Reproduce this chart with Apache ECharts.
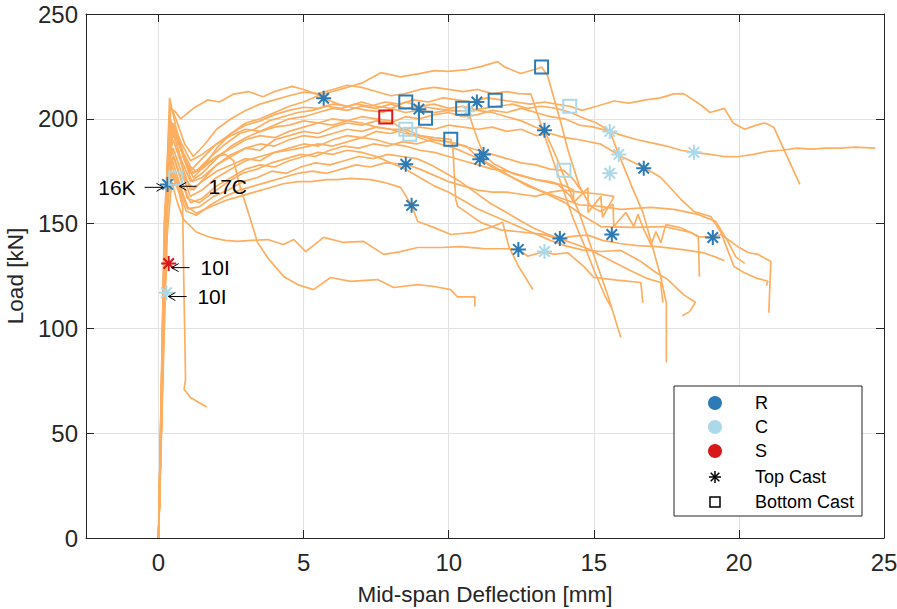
<!DOCTYPE html>
<html><head><meta charset="utf-8">
<script src="https://cdn.jsdelivr.net/npm/echarts@6/dist/echarts.min.js"></script>
<style>html,body{margin:0;padding:0;background:#fff}#c{width:897px;height:609px}</style>
</head><body><div id="c"></div>
<script>
// ---------------- data ----------------
const xTicks = [0, 5, 10, 15, 20, 25];
const yTicks = [0, 50, 100, 150, 200, 250];

const crv01 = [[0,0],[0.1,60],[0.2,130],[0.3,175],[0.42,198],[0.6,190],[0.9,172],[1.2,166],[1.6,172],[2.0,178],[2.5,182],[3.0,186],[3.5,185],[4.0,190],[4.5,192],[5.0,194],[5.5,193],[6.0,196],[6.5,198],[7.0,197],[7.5,199],[8.0,198],[8.5,201],[9.0,200],[9.5,202],[10.0,203],[10.5,201],[11.0,202],[11.5,204],[12.0,203],[12.5,205],[13.0,203],[13.5,201],[14.0,200],[14.5,197],[15.0,196],[15.55,194],[16.0,192],[16.5,190],[17.0,188.5],[17.5,187],[18.0,185],[18.45,184],[19.0,183],[19.5,182],[20.0,182],[20.5,183],[21.0,184.5],[21.5,185],[22.0,186],[22.5,185.5],[23.0,186],[23.5,186],[24.0,186.5],[24.7,186]];
const crv02 = [[0,0],[0.15,80],[0.3,160],[0.45,195],[0.7,188],[1.0,178],[1.3,175],[1.8,182],[2.3,188],[2.8,193],[3.3,195],[3.8,199],[4.3,201],[4.8,203],[5.3,204],[5.8,206],[6.3,205],[6.8,207],[7.3,206],[7.8,208],[8.3,207],[8.8,209],[9.3,208],[9.8,210],[10.3,209],[10.8,208],[11.3,210],[11.8,209],[12.3,208],[12.8,207],[13.3,208],[13.7,207],[14.17,206],[14.6,204],[15.1,206],[15.7,208.5],[16.2,207.5],[16.8,209],[17.3,210],[17.76,211.9],[18.1,212],[18.7,206.5],[19.0,203],[19.5,205],[19.8,198],[20.2,195],[20.6,197],[20.9,198],[21.2,196],[22.1,168.7]];
const crv03 = [[0,0],[0.1,70],[0.2,140],[0.38,210],[0.6,196],[0.9,180],[1.2,172],[1.6,178],[2.0,186],[2.5,193],[3.0,198],[3.5,200],[4.0,203],[4.5,206],[5.0,208],[5.5,211],[6.0,213],[6.5,215],[7.0,217],[7.66,222],[8.34,220],[9.03,221.7],[9.5,223],[9.97,222.6],[10.66,223.5],[11.1,224.9],[11.69,227.3],[11.9,224.9],[12.48,221.6],[13.07,224],[13.2,224.7],[13.41,220.4],[13.86,198.4],[14.1,185.5],[14.5,168],[14.9,158],[15.24,155.8],[15.66,159.2],[15.69,148.6],[16.1,155.3],[16.38,148.6],[16.52,154.4],[16.72,147.2],[16.97,140],[17.14,146.2],[17.31,140.9],[17.48,149.5],[18.0,148],[18.6,144],[18.64,124.7]];
const crv04 = [[0,0],[0.1,75],[0.2,150],[0.42,205],[0.6,203],[0.76,200],[1.2,205],[1.69,209],[2.1,208],[2.59,211.8],[3.1,213],[3.6,210.5],[4.0,213],[4.6,215.5],[5.0,214],[5.4,212],[5.69,209.8],[6.2,207],[6.62,205.5],[7.2,204],[7.76,203.2],[8.52,208],[9.0,206],[9.5,207],[10.0,205],[10.5,206],[11.0,204],[11.5,203],[12.0,201],[12.5,199],[13.0,196],[13.3,194.5],[13.7,182],[14.1,168],[14.5,155],[15.0,135],[15.5,115],[15.93,95.6]];
const crv05 = [[0,0],[0.1,70],[0.2,140],[0.5,198],[0.8,188],[1.1,180],[1.5,183],[2.0,188],[2.5,192],[3.0,195],[3.5,194],[4.0,197],[4.5,200],[5.0,201],[5.5,203],[6.0,205],[6.5,204],[7.0,206],[7.5,205],[8.0,207],[8.5,205],[9.0,206],[9.5,205],[10.0,204],[10.66,203.6],[11.2,205],[11.7,206],[12.2,207],[12.7,205],[13.2,206],[13.7,205],[14.2,203],[14.7,200],[15.1,198],[15.55,194],[15.86,183],[16.3,168],[16.7,155],[17.0,140],[17.3,125],[17.5,112],[17.5,83.7]];
const crv06 = [[0,0],[0.1,60],[0.2,125],[0.33,180],[0.5,190],[0.8,178],[1.1,166],[1.5,170],[2.0,175],[2.5,178],[3.0,181],[3.5,180],[4.0,184],[4.5,186],[5.0,188],[5.5,187],[6.0,190],[6.5,192],[7.0,191],[7.5,194],[8.0,193],[8.5,195],[9.0,196],[9.5,195],[10.0,197],[10.5,196],[11.0,195],[11.5,196],[12.0,194],[12.5,195],[13.0,192],[13.5,193],[14.0,191],[14.5,190],[15.24,187.9],[15.93,182.1],[16.72,176.9],[17.31,172],[18.0,161.6],[18.45,155.8],[19.03,153.4],[19.38,145.8],[19.83,129.5],[20.17,126.7],[20.6,124],[21.0,122.5],[20.95,120.5]];
const crv07 = [[0,0],[0.1,55],[0.2,115],[0.3,165],[0.45,185],[0.7,175],[1.0,162],[1.4,160],[1.9,165],[2.4,170],[2.9,174],[3.4,176],[3.9,179],[4.4,181],[4.9,183],[5.4,182],[5.9,185],[6.4,187],[6.9,186],[7.4,188],[7.9,187],[8.4,189],[8.9,188],[9.4,190],[10.0,189],[10.6,187],[11.07,180.7],[11.6,176],[12.2,172],[12.8,168],[13.4,164],[14.0,160],[14.6,154],[15.24,148.6],[16.38,148.2],[17.41,148.6],[18.34,145.8],[18.59,143.8],[19.1,143.4],[19.38,144.8],[19.97,139],[20.31,136.2],[20.66,135.3],[21.1,131.9],[21.03,107.5]];
const crv08 = [[0,0],[0.1,65],[0.2,135],[0.35,190],[0.5,197],[0.8,185],[1.1,174],[1.5,176],[2.0,182],[2.5,186],[3.0,190],[3.5,192],[4.0,191],[4.5,194],[5.0,196],[5.5,198],[6.0,197],[6.5,199],[7.0,201],[7.5,200],[8.0,199],[8.66,192.6],[9.2,190],[9.7,188],[10.2,186],[10.7,183],[11.2,180],[11.7,176],[12.2,172],[12.7,168],[13.3,165],[13.9,162],[14.5,159],[15.24,158.2],[15.93,156.8],[16.97,157.7],[17.76,156.8],[18.59,154.4],[19.2,151],[19.6,142],[19.9,134],[20.2,131]];
const crv09 = [[0,0],[0.1,55],[0.2,110],[0.32,160],[0.45,178],[0.7,168],[1.0,157],[1.4,158],[1.9,163],[2.4,166],[2.9,170],[3.4,172],[3.9,175],[4.4,174],[4.9,177],[5.4,179],[5.9,178],[6.4,180],[6.9,182],[7.4,181],[7.9,183],[8.4,182],[8.9,181],[9.4,178],[9.9,174],[10.4,170],[10.9,165],[11.4,160],[11.9,156],[12.4,152],[12.9,148],[13.4,145],[13.83,142.9],[14.3,144],[14.8,144.5],[15.3,142],[15.9,140.5],[16.5,139.5],[17.2,139],[18.0,137.7],[18.8,136],[19.2,134],[19.5,132.3]];
const crv10 = [[0,0],[0.1,60],[0.2,120],[0.35,175],[0.5,182],[0.8,170],[1.1,160],[1.5,162],[2.0,168],[2.5,172],[3.0,176],[3.5,178],[4.0,177],[4.5,180],[5.0,182],[5.5,184],[6.0,183],[6.5,185],[7.0,184],[7.5,182],[8.0,179],[8.5,176],[9.0,172],[9.5,168],[10.0,165],[10.5,161],[11.0,157],[11.5,154],[12.0,151],[12.5,148],[13.0,145],[13.5,142],[14.0,139.5],[14.6,137.5],[15.24,136.7],[15.93,137.2],[16.62,131.9],[17.1,127],[17.55,123.3],[18.1,116],[18.5,112.5],[18.3,108],[18.05,106]];
const crv11 = [[0,0],[0.1,50],[0.2,100],[0.3,145],[0.45,170],[0.65,160],[0.86,152],[1.3,146],[1.79,143.4],[2.3,142],[2.72,141.5],[3.2,142],[3.76,142.4],[4.3,140],[4.66,142.4],[5.07,136.6],[5.69,143.4],[6.38,141],[7.07,141.5],[7.76,135.3],[8.3,136.5],[8.93,138.6],[9.72,138.6],[10.41,139],[11.2,138.1],[12.0,138],[12.41,137.7],[12.72,134.4],[13.3,136.7],[13.62,135.3],[14.1,136.1],[14.66,129.5],[15.0,124.3],[15.8,123],[16.62,121.9],[16.69,112.3]];
const crv12 = [[0,0],[0.1,65],[0.2,135],[0.4,200],[0.6,192],[0.9,180],[1.2,174],[1.6,178],[2.0,182],[2.3,183],[2.59,180],[2.8,168],[3.1,155],[3.41,141],[3.8,133],[4.31,124.8],[4.79,120.9],[5.34,118.5],[5.93,124.3],[6.62,122.4],[7.55,123.3],[8.1,119.5],[8.93,120.9],[9.5,120],[10.07,118.5],[10.3,115],[10.9,115],[10.9,110.4]];
const crv13 = [[0,0],[0.1,55],[0.2,115],[0.32,165],[0.48,180],[0.75,168],[1.0,158],[1.3,155],[1.8,158],[2.3,161],[2.8,163],[3.3,165],[3.8,167],[4.3,169],[4.8,170],[5.24,170],[5.8,171],[6.17,171],[6.62,171.6],[7.3,171],[7.76,169.7],[8.34,167.3],[8.72,158.7],[8.93,151],[9.48,148.2],[10.07,144.8],[10.86,145.8],[11.4,148],[11.86,150.6],[12.07,139],[12.41,129.5],[12.9,118.5]];
const crv14 = [[0,0],[0.1,60],[0.2,125],[0.35,175],[0.5,172],[0.7,165],[0.83,158],[0.86,130],[0.9,100],[0.93,75.5],[0.88,71],[1.1,67],[1.4,64.5],[1.66,62.5]];
const crv15 = [[0,0],[0.1,65],[0.2,130],[0.35,185],[0.55,195],[0.85,182],[1.15,170],[1.5,172],[2.0,178],[2.5,183],[3.0,186],[3.5,188],[4.0,187],[4.5,190],[5.0,192],[5.5,191],[6.0,193],[6.5,195],[7.0,194],[7.5,196],[8.0,195],[8.52,195],[9.0,192],[9.5,190],[10.0,189],[10.5,187],[11.0,185],[11.5,183],[12.0,181],[12.5,179],[13.0,178],[13.5,176],[13.97,175.4],[14.3,171],[14.5,167],[14.7,164]];
const crv16 = [[0,0],[0.1,60],[0.2,125],[0.34,180],[0.5,186],[0.8,174],[1.1,163],[1.5,166],[2.0,172],[2.5,176],[3.0,180],[3.5,182],[4.0,184],[4.5,185],[5.0,186.4],[5.5,188],[6.0,187],[6.5,189],[7.0,191],[7.5,190],[8.0,188],[8.5,187],[9.0,185],[9.5,184],[10.0,182],[10.5,180],[11.0,178],[11.5,176],[12.0,175],[12.5,173],[13.0,171],[13.5,170],[14.0,168],[14.3,166],[14.3,159.6]];
const crv17 = [[0,0],[0.1,70],[0.2,140],[0.37,198],[0.55,195],[0.85,184],[1.15,176],[1.5,181],[2.0,188],[2.5,193],[3.0,197],[3.5,199],[4.0,202],[4.5,204],[5.0,205.5],[5.5,205],[6.0,207],[6.5,206],[7.0,208],[7.5,206],[8.0,205],[8.5,203],[9.0,204],[9.5,203],[10.0,204],[10.66,203.6],[11.0,190],[11.2,183],[11.55,178.5],[12.24,173.7],[13.0,171],[13.76,168.7],[14.2,163],[14.3,160],[14.8,167],[14.8,155.3],[15.24,163],[15.3,153],[15.7,163]];
const crv18 = [[0,0],[0.1,65],[0.2,130],[0.35,188],[0.52,192],[0.8,180],[1.1,170],[1.5,174],[2.0,181],[2.5,187],[3.0,191],[3.5,194],[4.0,196],[4.5,197],[5.0,199],[5.5,198],[6.0,200],[6.5,199],[7.0,198],[7.5,196],[8.0,195],[8.5,193],[9.0,192],[9.5,191],[10.07,190.2],[10.14,186.9],[10.24,161.6],[10.31,158.2],[11.1,150.6],[11.8,147],[12.5,146],[13.2,145],[14.0,142],[14.8,138],[15.5,133],[16.2,128],[16.8,124],[17.3,121.9],[17.38,112.3]];
const crv19 = [[0,0],[0.1,55],[0.2,115],[0.31,162],[0.46,175],[0.7,166],[0.95,156],[1.3,154],[1.8,159],[2.3,163],[2.8,166],[3.3,168],[3.8,170],[4.3,172],[4.8,174],[5.3,175],[5.8,174],[6.3,176],[6.8,178],[7.3,177],[7.8,179],[8.52,178.3],[9.0,176],[9.5,173],[10.0,170],[10.5,168],[11.0,166],[11.5,165],[12.0,165],[12.5,164],[13.0,163],[13.5,165],[14.0,166],[14.5,165],[15.24,164],[15.69,163]];
const crv20 = [[0,0],[0.1,75],[0.2,150],[0.4,206],[0.6,200],[0.9,188],[1.2,182],[1.6,188],[2.0,195],[2.5,200],[3.0,204],[3.5,207],[4.0,209],[4.5,211],[5.0,212.7],[5.5,212],[6.0,214],[6.5,216],[7.0,215],[7.5,213],[8.0,211],[8.5,212],[9.0,214],[9.5,215],[10.0,214],[10.5,213],[11.0,214],[11.5,212],[12.0,213],[12.4,212],[12.83,211.8],[13.3,192],[13.8,172],[14.3,152],[14.66,140],[15.0,128],[15.4,115],[15.6,110]];
const curves = [crv01,crv02,crv03,crv04,crv05,crv06,crv07,crv08,crv09,crv10,crv11,crv12,crv13,crv14,crv15,crv16,crv17,crv18,crv19,crv20];

// markers: [deflection, load]
const rTop = [[5.69,209.8],[8.97,204.6],[10.97,208],[13.3,194.5],[8.52,178.3],[8.72,158.7],[11.07,180.7],[11.2,183],[16.72,176.4],[15.62,144.8],[19.1,143.4],[12.4,137.7],[13.83,142.9],[0.31,168.7]];
const cTop = [[10.66,203.6],[15.55,194],[15.86,183],[15.55,174],[18.45,184],[13.3,136.7],[0.27,117]];
const sTop = [[0.35,131]];
const rBottom = [[13.2,224.7],[8.52,208],[9.2,200.3],[10.48,205],[11.6,208.9],[10.07,190.2]];
const cBottom = [[14.17,206],[8.52,195],[8.66,192.6],[13.97,175.4],[0.59,171.6]];
const sBottom = [[7.83,200.8]];

const legendNames = ['R', 'C', 'S', 'Top Cast', 'Bottom Cast'];
const annoLabels = ['16K', '17C', '10I', '10I'];

// ---------------- styles / layout ----------------
const FONT = '"Liberation Sans", Arial, Helvetica, sans-serif';
const COL = { R: '#2c7bb6', C: '#abd9e9', S: '#d7191c', line: '#fdae61', axis: '#262626' };
const AST = 'path://M10,0L10,20M0,10L20,10M3,3L17,17M3,17L17,3';

const chart = echarts.init(document.getElementById('c'), null, { renderer: 'svg' });

const series = curves.map(d => ({
  type: 'line', data: d, showSymbol: false, silent: true, z: 2,
  lineStyle: { color: COL.line, width: 1.7 }, animation: false
}));
function markerSeries(data, color, isStar) {
  return {
    type: 'scatter', data: data, z: 5, silent: true, animation: false,
    symbol: isStar ? AST : 'rect', symbolSize: isStar ? 15 : 13,
    itemStyle: { color: 'none', borderColor: color, borderWidth: 2, opacity: 1 }
  };
}
series.push(markerSeries(rTop, COL.R, true));
series.push(markerSeries(cTop, COL.C, true));
series.push(markerSeries(sTop, COL.S, true));
series.push(markerSeries(rBottom, COL.R, false));
series.push(markerSeries(cBottom, COL.C, false));
series.push(markerSeries(sBottom, COL.S, false));

const axisLineStyle = { color: COL.axis, width: 1 };
const option = {
  backgroundColor: '#fff',
  animation: false,
  grid: { left: 86, right: 13, top: 14, bottom: 71, containLabel: false, outerBoundsMode: 'none' },
  xAxis: [{
    type: 'value', min: -2.5, max: 25, position: 'bottom',
    axisLine: { show: true, onZero: false, lineStyle: axisLineStyle },
    axisTick: { show: true, inside: true, length: 8, customValues: xTicks, lineStyle: axisLineStyle },
    axisLabel: { customValues: xTicks, fontSize: 24, color: COL.axis, margin: 12, fontFamily: FONT },
    splitLine: { show: true, lineStyle: { color: '#e2e2e2', width: 1 } },
    name: 'Mid-span Deflection [mm]', nameLocation: 'middle', nameGap: 45,
    nameTextStyle: { fontSize: 22.5, color: COL.axis, fontFamily: FONT }
  }, {
    type: 'value', min: -2.5, max: 25, position: 'top',
    axisLine: { show: true, onZero: false, lineStyle: axisLineStyle },
    axisTick: { show: true, inside: true, length: 8, customValues: xTicks, lineStyle: axisLineStyle },
    axisLabel: { show: false }, splitLine: { show: false }
  }],
  yAxis: [{
    type: 'value', min: 0, max: 250, interval: 50, position: 'left',
    axisLine: { show: true, onZero: false, lineStyle: axisLineStyle },
    axisTick: { show: true, inside: true, length: 8, lineStyle: axisLineStyle },
    axisLabel: { fontSize: 24, color: COL.axis, margin: 8, fontFamily: FONT },
    splitLine: { show: true, lineStyle: { color: '#e2e2e2', width: 1 } },
    name: 'Load [kN]', nameLocation: 'middle', nameGap: 55,
    nameTextStyle: { fontSize: 22.5, color: COL.axis, fontFamily: FONT }
  }, {
    type: 'value', min: 0, max: 250, interval: 50, position: 'right',
    axisLine: { show: true, onZero: false, lineStyle: axisLineStyle },
    axisTick: { show: true, inside: true, length: 8, lineStyle: axisLineStyle },
    axisLabel: { show: false }, splitLine: { show: false }
  }],
  series: series
};
chart.setOption(option);

// ---------------- annotations (arrows + labels) ----------------
const annoLayout = [
  { label: annoLabels[0], text: [-0.79, 167.3], align: 'right', from: [-0.48, 167.3], to: [0.17, 167.3] },
  { label: annoLabels[1], text: [1.72, 167.8], align: 'left', from: [1.31, 167.8], to: [0.72, 167.8] },
  { label: annoLabels[2], text: [1.45, 129], align: 'left', from: [1.07, 129], to: [0.45, 129] },
  { label: annoLabels[3], text: [1.34, 115.2], align: 'left', from: [0.97, 115.2], to: [0.34, 115.2] }
];
const gfx = [];
annoLayout.forEach(a => {
  const p0 = chart.convertToPixel({ gridIndex: 0 }, a.from);
  const p1 = chart.convertToPixel({ gridIndex: 0 }, a.to);
  const pt = chart.convertToPixel({ gridIndex: 0 }, a.text);
  const dir = Math.sign(p1[0] - p0[0]);
  gfx.push({ type: 'line', shape: { x1: p0[0], y1: p0[1], x2: p1[0], y2: p1[1] }, style: { stroke: '#000', lineWidth: 1 }, z: 20 });
  gfx.push({ type: 'polyline', shape: { points: [[p1[0] - dir * 7, p1[1] - 4], [p1[0], p1[1]], [p1[0] - dir * 7, p1[1] + 4]] }, style: { stroke: '#000', lineWidth: 1, fill: null }, z: 20 });
  gfx.push({ type: 'text', x: pt[0], y: pt[1], z: 20, style: { text: a.label, font: '21px ' + FONT, fill: '#000', align: a.align, verticalAlign: 'middle' } });
});

// ---------------- legend ----------------
const LX = 674, LY = 386, LW = 188, LH = 130;
gfx.push({ type: 'rect', shape: { x: LX, y: LY, width: LW, height: LH }, style: { fill: '#fff', stroke: '#262626', lineWidth: 1 }, z: 30 });
const rowY = [403, 427, 451, 477, 502];
const iconX = 715, textX = 755;
[COL.R, COL.C, COL.S].forEach((c, i) => {
  gfx.push({ type: 'circle', shape: { cx: iconX, cy: rowY[i], r: 7 }, style: { fill: c }, z: 31 });
});
[[0, -6, 0, 6], [-6, 0, 6, 0], [-4.3, -4.3, 4.3, 4.3], [-4.3, 4.3, 4.3, -4.3]].forEach(s => {
  gfx.push({ type: 'line', shape: { x1: iconX + s[0], y1: rowY[3] + s[1], x2: iconX + s[2], y2: rowY[3] + s[3] }, style: { stroke: '#000', lineWidth: 1.5 }, z: 31 });
});
gfx.push({ type: 'rect', shape: { x: iconX - 5, y: rowY[4] - 5, width: 10, height: 10 }, style: { fill: '#fff', stroke: '#000', lineWidth: 1.5 }, z: 31 });
legendNames.forEach((n, i) => {
  gfx.push({ type: 'text', x: textX, y: rowY[i], z: 31, style: { text: n, font: '18px ' + FONT, fill: '#000', align: 'left', verticalAlign: 'middle' } });
});
chart.setOption({ graphic: gfx });
</script></body></html>
